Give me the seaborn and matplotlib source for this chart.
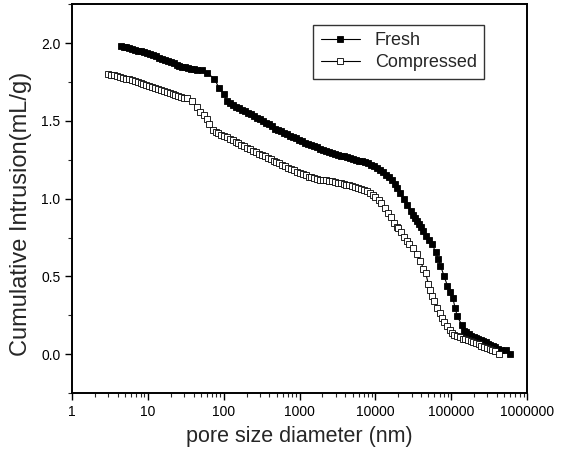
import numpy as np
import pandas as pd
import seaborn as sns
import matplotlib.pyplot as plt
from matplotlib.ticker import LogLocator, MultipleLocator, FixedLocator, FixedFormatter

# pore diameter (nm) and cumulative intrusion (mL/g)
fresh_x = [4.4, 4.8, 5.2, 5.7, 6.2, 6.8, 7.4, 8.1, 8.9, 9.7, 10.6, 11.6, 12.7, 13.9,
           15.2, 16.6, 18.2, 19.9, 21.8, 23.8, 26, 28.5, 31, 34, 37, 41, 45,
           52, 60, 75, 87, 100, 110,
           120, 132, 145, 160, 175, 192, 210, 230, 252, 276, 302, 330, 362, 396, 436,
           480, 525, 575, 630, 690, 755, 826, 905, 990, 1085, 1190, 1300, 1420, 1560, 1700,
           1870, 2050, 2240, 2450, 2690, 2940, 3220, 3530, 3860, 4230, 4630, 5070, 5550,
           6080, 6650, 7280, 7970, 8730, 9560, 10500, 11500, 12600, 13800, 15100, 16500,
           18000, 19000, 21000, 23700, 26000, 29000, 31000, 33000, 35000, 37500, 40000,
           43000, 47000, 51000, 56000, 62000, 67000, 72000, 80000, 89000, 96000, 105000,
           112000, 120000, 137000, 148000, 158000, 170000, 183000, 197000, 212000, 228000,
           245000, 263000, 283000, 305000, 328000, 353000, 380000, 410000, 446000,
           525000, 600000]
fresh_y = [1.979, 1.975, 1.972, 1.968, 1.963, 1.957, 1.952, 1.946, 1.940, 1.934, 1.928,
           1.921, 1.914, 1.907, 1.899, 1.892, 1.884, 1.877, 1.869, 1.862, 1.855, 1.848,
           1.843, 1.839, 1.836, 1.833, 1.830,
           1.824, 1.810, 1.770, 1.710, 1.675, 1.630,
           1.615, 1.603, 1.592, 1.581, 1.571, 1.561, 1.551, 1.541, 1.531, 1.521, 1.511,
           1.500, 1.489, 1.478, 1.465,
           1.450, 1.441, 1.432, 1.423, 1.414, 1.405, 1.396, 1.387, 1.378, 1.369, 1.360,
           1.351, 1.343, 1.336, 1.329,
           1.322, 1.315, 1.308, 1.301, 1.295, 1.289, 1.283, 1.277, 1.271, 1.265, 1.259,
           1.254, 1.249, 1.245, 1.240, 1.233, 1.226, 1.217, 1.207, 1.197, 1.184, 1.170,
           1.155, 1.138, 1.120, 1.095, 1.070, 1.035, 0.995, 0.960, 0.920, 0.895, 0.875,
           0.855, 0.835, 0.815, 0.790, 0.760, 0.735, 0.710, 0.655, 0.615, 0.570, 0.505,
           0.440, 0.400, 0.360, 0.300, 0.245, 0.190, 0.150, 0.140, 0.128, 0.118, 0.110,
           0.102, 0.095, 0.089, 0.083, 0.076, 0.069, 0.061, 0.053, 0.045, 0.037, 0.030,
           0.025, 0.000]

comp_x = [3.0, 3.3, 3.6, 3.9, 4.3, 4.7, 5.1, 5.6, 6.1, 6.7, 7.3, 8.0, 8.7, 9.5, 10.4,
          11.4, 12.4, 13.6, 14.8, 16.2, 17.7, 19.3, 21.1, 23, 25.2, 27.5, 30, 33,
          38, 44, 49, 55, 60, 64, 72, 78, 84, 92, 100, 110,
          120, 131, 143, 156, 171, 187, 204, 223, 244, 266, 291, 318, 347, 380, 415, 453,
          495, 541, 591, 646, 706, 771, 843, 921, 1000, 1100, 1200, 1310, 1430, 1560,
          1710, 1870, 2040, 2230, 2440, 2660, 2910, 3180, 3470, 3800, 4150, 4530, 4950,
          5410, 5910, 6460, 7060, 7710, 8430, 9210, 10000, 11000, 12000, 13300, 14500,
          16000, 17500, 19000, 20000, 22000, 24000, 26000, 28000, 31000, 35000, 39000,
          43000, 46000, 50000, 53000, 56000, 60000, 65000, 70000, 75000, 81000, 88000,
          95000, 102000, 110000, 120000, 130000, 141000, 153000, 165000, 180000, 195000,
          212000, 230000, 250000, 272000, 295000, 320000, 348000, 378000, 420000]
comp_y = [1.800, 1.796, 1.792, 1.787, 1.782, 1.777, 1.772, 1.767, 1.762, 1.756, 1.750,
          1.744, 1.738, 1.732, 1.726, 1.720, 1.714, 1.707, 1.700, 1.693, 1.686, 1.679,
          1.672, 1.666, 1.660, 1.655, 1.650, 1.646,
          1.630, 1.590, 1.555, 1.535, 1.515, 1.480, 1.440, 1.430, 1.420, 1.410, 1.400, 1.395,
          1.385, 1.376, 1.366, 1.357, 1.347, 1.338, 1.328, 1.318, 1.309, 1.299, 1.290,
          1.281, 1.271, 1.262, 1.253, 1.244, 1.235, 1.226, 1.217, 1.208, 1.199, 1.190,
          1.182, 1.174, 1.166, 1.157, 1.149, 1.142, 1.136, 1.131, 1.127, 1.123, 1.120,
          1.117, 1.114, 1.111, 1.107, 1.103, 1.099, 1.095, 1.091, 1.086, 1.081, 1.076,
          1.070, 1.064, 1.056, 1.048, 1.038, 1.025, 1.010, 0.990, 0.970, 0.940, 0.910,
          0.880, 0.845, 0.820, 0.810, 0.785, 0.755, 0.730, 0.710, 0.680, 0.645, 0.600,
          0.550, 0.520, 0.450, 0.410, 0.375, 0.340, 0.300, 0.265, 0.235, 0.205, 0.180,
          0.155, 0.135, 0.125, 0.117, 0.109, 0.101, 0.096, 0.090, 0.083, 0.077, 0.070,
          0.063, 0.056, 0.049, 0.042, 0.035, 0.028, 0.018, 0.000]

x_ticks = [1, 10, 100, 1000, 10000, 100000, 1000000]
x_labels = ["1", "10", "100", "1000", "10000", "100000", "1000000"]


def main():
    sns.set_style("ticks")
    plt.rcParams['font.family'] = ['Liberation Sans', 'DejaVu Sans']

    fig = plt.figure(figsize=(5.68, 4.62), dpi=100)
    ax = fig.add_axes([0.127, 0.149, 0.801, 0.842])

    sns.lineplot(ax=ax, x=fresh_x, y=fresh_y, sort=False, estimator=None,
                 color="black", linewidth=0.8, marker="s", markersize=4,
                 markerfacecolor="black", markeredgecolor="black",
                 markeredgewidth=0.6, label="Fresh")
    sns.lineplot(ax=ax, x=comp_x, y=comp_y, sort=False, estimator=None,
                 color="black", linewidth=0.8, marker="s", markersize=4,
                 markerfacecolor="white", markeredgecolor="black",
                 markeredgewidth=0.6, label="Compressed")

    ax.set_xscale("log")
    ax.set_xlim(1, 1000000)
    ax.set_ylim(-0.25, 2.25)
    ax.xaxis.set_major_locator(FixedLocator(x_ticks))
    ax.xaxis.set_major_formatter(FixedFormatter(x_labels))
    ax.xaxis.set_minor_locator(LogLocator(base=10, subs=np.arange(2, 10)))
    ax.yaxis.set_major_locator(MultipleLocator(0.5))
    ax.yaxis.set_minor_locator(MultipleLocator(0.25))
    ax.yaxis.set_major_formatter(plt.FuncFormatter(lambda v, p: f"{v:.1f}"))

    ax.tick_params(which="major", direction="out", length=5, width=1,
                   labelsize=10, colors="black")
    ax.tick_params(which="minor", direction="out", length=3, width=0.8)
    for s in ax.spines.values():
        s.set_linewidth(1.4)
        s.set_color("black")

    ax.set_xlabel("pore size diameter (nm)", fontsize=15.5, labelpad=5)
    ax.set_ylabel("Cumulative Intrusion(mL/g)", fontsize=17)
    ax.yaxis.set_label_coords(-0.088, 0.46)

    leg = ax.legend(loc="upper right", bbox_to_anchor=(0.925, 0.97), fontsize=13,
                    frameon=True, fancybox=False, edgecolor="black",
                    handlelength=2.2, borderpad=0.4, labelspacing=0.3)
    leg.get_frame().set_linewidth(1.0)

    plt.savefig("out.png", dpi=100)


if __name__ == "__main__":
    main()
